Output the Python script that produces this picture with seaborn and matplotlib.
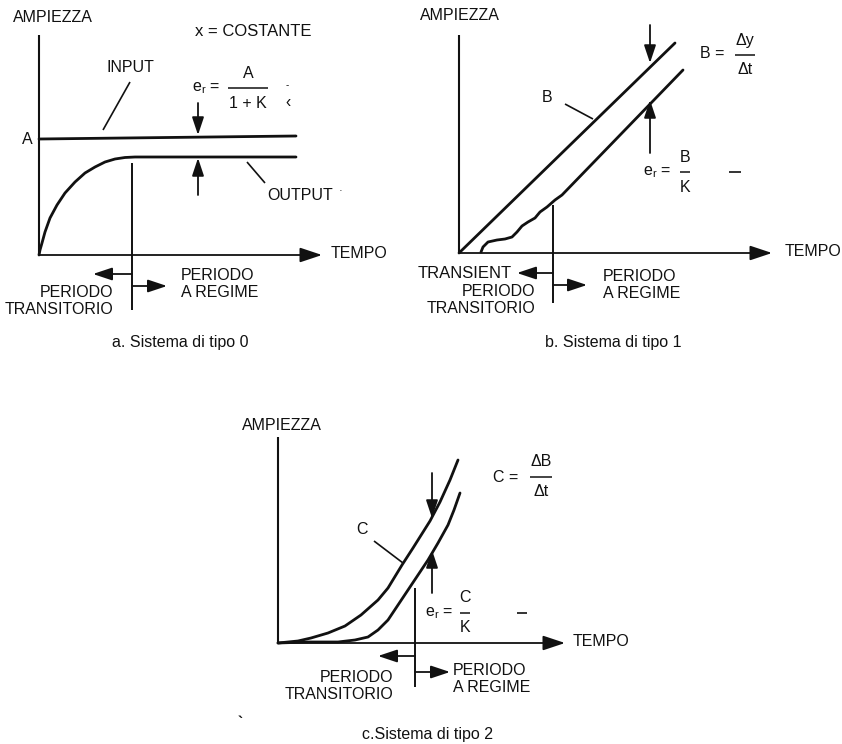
import matplotlib
matplotlib.use("Agg")
import matplotlib.pyplot as plt
import seaborn as sns
import pandas as pd

# --- dati (unita' = pixel relativi all'origine di ogni pannello, y verso l'alto) ---

# pannello a: sistema di tipo 0
a_input_x = [0, 257]
a_input_y = [116, 119]
a_output_x = [0, 1, 3, 6, 11, 18, 26, 36, 46, 56, 66, 76, 86, 96, 257]
a_output_y = [0, 5, 12, 23, 37, 50, 62, 73, 82, 88, 93, 96, 97.5, 98, 98]

# pannello b: sistema di tipo 1
b_input_x = [0, 216]
b_input_y = [0, 210]
b_output_x = [22, 24, 29, 38, 46, 53, 58, 63, 69, 76, 81, 88, 96, 103, 224]
b_output_y = [1, 6, 11, 13, 14, 16, 21, 27, 31, 35, 41, 46, 53, 58, 183]

# pannello c: sistema di tipo 2
c_input_x = [0, 20, 33, 50, 67, 83, 100, 110, 124, 135, 152, 162, 172, 180]
c_input_y = [0, 2, 5, 10, 17, 28, 43, 55, 78, 95, 122, 141, 163, 183]
c_output_x = [0, 30, 60, 77, 90, 100, 110, 120, 130, 140, 150, 160, 170, 176, 182]
c_output_y = [0, 1, 1, 3, 6, 13, 23, 38, 53, 68, 83, 100, 118, 133, 150]

# etichette
asse_y = "AMPIEZZA"
asse_x = "TEMPO"
regime = "PERIODO\nA REGIME"
transitorio = "PERIODO\nTRANSITORIO"
didascalie = ["a. Sistema di tipo 0", "b. Sistema di tipo 1", "c.Sistema di tipo 2"]

W, H = 842, 744
NERO = "#111111"
FS = 11.5


def configura_stile():
    sns.set_theme(style="white")
    plt.rcParams['font.family'] = ['Liberation Sans', 'DejaVu Sans']
    plt.rcParams['mathtext.fontset'] = 'custom'
    plt.rcParams['mathtext.rm'] = 'Liberation Sans'
    plt.rcParams['text.color'] = NERO


def crea_pannello(fig, box, origine):
    """Axes in pixel: box = (sinistra, alto, larghezza, altezza), origine = (x, y) in pixel della figura."""
    x0, y0, w, h = box
    ox, oy = origine
    ax = fig.add_axes([x0 / W, 1 - (y0 + h) / H, w / W, h / H])
    ax.set_xlim(x0 - ox, x0 + w - ox)
    ax.set_ylim(oy - (y0 + h), oy - y0)
    ax.axis("off")
    return ax


def freccia(ax, da, a, ms=13):
    ax.annotate("", xy=a, xytext=da,
                arrowprops=dict(arrowstyle="-|>,head_length=0.9,head_width=0.3",
                                color=NERO, lw=1.3, shrinkA=0, shrinkB=0,
                                mutation_scale=ms))


def linea(ax, xs, ys, lw=1.2):
    ax.plot(xs, ys, color=NERO, lw=lw, solid_capstyle="butt")


def curva(ax, xs, ys):
    df = pd.DataFrame({"t": xs, "y": ys})
    sns.lineplot(data=df, x="t", y="y", ax=ax, color=NERO, lw=2.0,
                 sort=False, estimator=None)
    ax.lines[-1].set_solid_joinstyle("round")
    ax.set_xlabel("")
    ax.set_ylabel("")


def frazione(ax, xc, y_bar, num, den, larghezza, fs=FS):
    ax.text(xc, y_bar + 15, num, ha="center", va="center", fontsize=fs)
    linea(ax, [xc - larghezza / 2, xc + larghezza / 2], [y_bar, y_bar], lw=1.1)
    ax.text(xc, y_bar - 15, den, ha="center", va="center", fontsize=fs)


def assi(ax, top, tip, ampiezza_x, tempo_x, ampiezza_y):
    linea(ax, [0, 0], [0, top], lw=1.5)
    freccia(ax, (0, 0), (tip, 0), ms=15)
    ax.text(ampiezza_x, ampiezza_y, asse_y, ha="left", va="center", fontsize=FS)
    ax.text(tempo_x, 1, asse_x, ha="left", va="center", fontsize=11.5)


def periodi(ax, xdiv, ydiv, y_sx, x_sx, y_dx, x_dx, x_reg, y_reg, x_tra, y_tra):
    linea(ax, [xdiv, xdiv], ydiv, lw=1.4)
    freccia(ax, (xdiv, y_sx), (x_sx, y_sx))
    freccia(ax, (xdiv, y_dx), (x_dx, y_dx))
    ax.text(x_reg, y_reg, regime, ha="left", va="top", fontsize=FS, linespacing=1.2)
    ax.text(x_tra, y_tra, transitorio, ha="right", va="top", fontsize=FS,
            linespacing=1.2, multialignment="right")


configura_stile()
fig = plt.figure(figsize=(W / 100, H / 100), dpi=100)
fig.patch.set_facecolor("white")

# ---------------- pannello a ----------------
ax = crea_pannello(fig, (0, 0, 420, 370), (39, 255))
assi(ax, 220, 283, -26, 292, 237)
curva(ax, a_input_x, a_input_y)
curva(ax, a_output_x, a_output_y)
ax.text(-12, 115, "A", ha="center", va="center", fontsize=FS)
ax.text(156, 224, "x = COSTANTE", ha="left", va="center", fontsize=12)
ax.text(91, 187, "INPUT", ha="center", va="center", fontsize=FS)
linea(ax, [91, 64], [173, 125])
ax.text(153, 167, r"e$_{\mathregular{r}}$ =", ha="left", va="center", fontsize=FS)
frazione(ax, 209, 167, "A", "1 + K", 40)
ax.text(248, 170, "-", ha="center", va="center", fontsize=7)
ax.text(249, 152, "‹", ha="center", va="center", fontsize=FS)
freccia(ax, (159, 152), (159, 120), ms=12)
freccia(ax, (159, 60), (159, 97), ms=12)
ax.text(228, 60, "OUTPUT", ha="left", va="center", fontsize=FS)
linea(ax, [208, 226], [93, 72])
ax.text(301, 64, "·", ha="center", va="center", fontsize=8)
periodi(ax, 93, [92, -55], -19, 54, -31, 128, 142, -13, 74, -30)
ax.text(141, -87, didascalie[0], ha="center", va="center", fontsize=11.5)

# ---------------- pannello b ----------------
ax = crea_pannello(fig, (420, 0, 422, 370), (459, 253))
assi(ax, 218, 313, -39, 326, 238)
curva(ax, b_input_x, b_input_y)
curva(ax, b_output_x, b_output_y)
ax.text(88, 156, "B", ha="center", va="center", fontsize=FS)
linea(ax, [106, 134], [149, 134])
ax.text(241, 199, "B =", ha="left", va="center", fontsize=FS)
frazione(ax, 286, 198, "Δy", "Δt", 20)
freccia(ax, (191, 228), (191, 190), ms=12)
freccia(ax, (191, 100), (191, 153), ms=12)
ax.text(184, 81, r"e$_{\mathregular{r}}$ =", ha="left", va="center", fontsize=FS)
frazione(ax, 226, 81, "B", "K", 10)
linea(ax, [270, 282], [81, 81])
periodi(ax, 94, [48, -50], -20, 58, -32, 128, 144, -16, 76, -31)
ax.text(53, -20, "TRANSIENT", ha="right", va="center", fontsize=12)
ax.text(154, -89, didascalie[1], ha="center", va="center", fontsize=11.5)

# ---------------- pannello c ----------------
ax = crea_pannello(fig, (220, 400, 420, 344), (278, 643))
assi(ax, 206, 287, -36, 295, 218)
curva(ax, c_input_x, c_input_y)
curva(ax, c_output_x, c_output_y)
ax.text(84, 113, "C", ha="center", va="center", fontsize=FS)
linea(ax, [96, 125], [102, 80])
ax.text(215, 166, "C =", ha="left", va="center", fontsize=FS)
frazione(ax, 263, 166, "ΔB", "Δt", 22)
freccia(ax, (154, 170), (154, 125), ms=12)
freccia(ax, (154, 50), (154, 93), ms=12)
ax.text(147, 30, r"e$_{\mathregular{r}}$ =", ha="left", va="center", fontsize=FS)
frazione(ax, 187, 30, "C", "K", 10)
linea(ax, [239, 249], [30, 30])
periodi(ax, 137, [55, -44], -13, 100, -29, 172, 175, -20, 115, -27)
ax.text(-38, -80, "`", ha="center", va="center", fontsize=11, fontweight="bold")
ax.text(150, -92, didascalie[2], ha="center", va="center", fontsize=11.5)

fig.savefig("out.png", dpi=100, facecolor="white")
